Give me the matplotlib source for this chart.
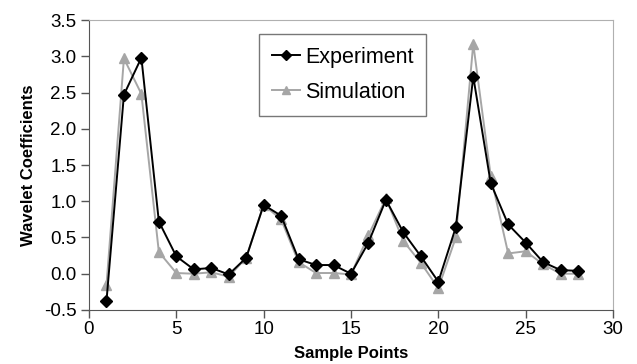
import matplotlib
matplotlib.use("Agg")
import matplotlib.pyplot as plt

# sample index and wavelet coefficients
points = list(range(1, 29))
experiment = [-0.38, 2.47, 2.98, 0.72, 0.24, 0.06, 0.08, -0.01, 0.22, 0.95,
              0.80, 0.20, 0.12, 0.12, 0.00, 0.43, 1.02, 0.57, 0.24, -0.11,
              0.64, 2.72, 1.25, 0.68, 0.43, 0.16, 0.05, 0.04]
simulation = [-0.16, 2.97, 2.48, 0.30, 0.01, 0.00, 0.02, -0.04, 0.22, 0.95,
              0.75, 0.16, 0.01, 0.01, -0.01, 0.53, 1.04, 0.45, 0.15, -0.20,
              0.50, 3.17, 1.35, 0.28, 0.31, 0.13, 0.00, 0.00]
xticks = [0, 5, 10, 15, 20, 25, 30]
yticks = [-0.5, 0.0, 0.5, 1.0, 1.5, 2.0, 2.5, 3.0, 3.5]

plt.rcParams["font.family"] = ["Liberation Sans", "DejaVu Sans"]

fig = plt.figure(figsize=(6.37, 3.64), dpi=100)
ax = fig.add_axes([0.1397, 0.1484, 0.8226, 0.7966])

ax.plot(points, simulation, color="#a6a6a6", lw=1.4, marker="^", ms=7,
        mec="#a6a6a6", mfc="#a6a6a6", label="Simulation", zorder=2)
ax.plot(points, experiment, color="black", lw=1.4, marker="D", ms=6,
        mec="black", mfc="black", label="Experiment", zorder=3)

ax.set_xlim(0, 30)
ax.set_ylim(-0.5, 3.5)
ax.set_xticks(xticks)
ax.set_yticks(yticks)
ax.set_yticklabels([f"{v:.1f}" for v in yticks])
ax.tick_params(axis="both", labelsize=13.5, direction="out", length=6,
               width=1, color="#555555", pad=2)
ax.tick_params(axis="y", pad=3)

for side in ("top", "right"):
    ax.spines[side].set_color("#b0b0b0")
for side in ("left", "bottom"):
    ax.spines[side].set_color("#555555")

ax.set_xlabel("Sample Points", fontsize=12, fontweight="bold", labelpad=6)
ax.set_ylabel("Wavelet Coefficients", fontsize=12, fontweight="bold", labelpad=6)

handles, labels = ax.get_legend_handles_labels()
leg = ax.legend(handles[::-1], labels[::-1], loc="upper left",
                bbox_to_anchor=(0.324, 0.952), borderaxespad=0, fontsize=15.5,
                fancybox=False, framealpha=1, edgecolor="#777777",
                handlelength=1.3, handletextpad=0.25, borderpad=0.6,
                labelspacing=0.65, markerscale=0.8)
leg.get_frame().set_linewidth(1.0)

fig.savefig("out.png", dpi=100)
